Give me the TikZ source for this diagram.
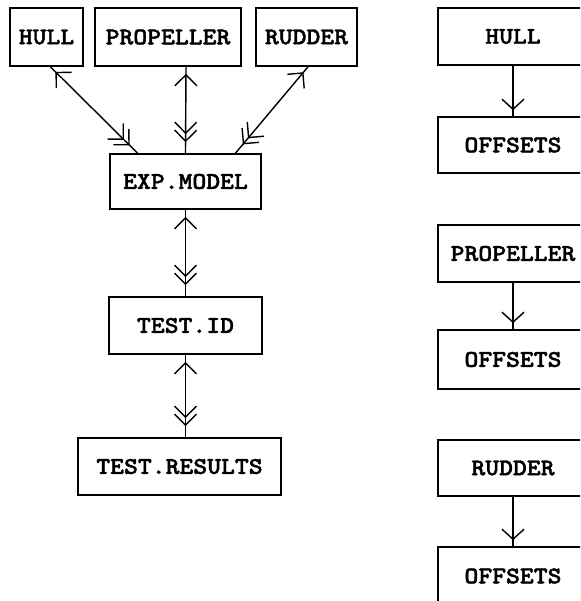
\documentclass[tikz,border=0pt]{standalone}
\usepackage{fontspec}
\newfontfamily\twfont{lmmonolt10-bold.otf}[FakeStretch=1.1,FakeBold=1.6]
\usetikzlibrary{arrows.meta,decorations.markings}
\tikzset{
  boxnode/.style={draw, line width=1.7pt, inner sep=0pt, font=\twfont\fontsize{24}{28}\selectfont},
  conn/.style={line width=1.4pt},
  bi/.style={conn, postaction={decorate}, decoration={markings,
     mark=at position 7pt with {\arrowreversed{Straight Barb[length=11pt,width=22pt]}},
     mark=at position -11pt with {\arrow{Straight Barb[length=11pt,width=22pt]}},
     mark=at position -19pt with {\arrow{Straight Barb[length=11pt,width=22pt]}}}},
  uni/.style={conn, postaction={decorate}, decoration={markings,
     mark=at position -6pt with {\arrow{Straight Barb[length=10pt,width=22pt]}}}}
}
\begin{document}
\begin{tikzpicture}[x=1pt,y=-1pt]
\clip (0,0) rectangle (580,601);
\fill[white] (0,0) rectangle (580,601);
% left column
\node[boxnode, minimum width=73pt, minimum height=58pt] (hullA) at (46.5,37) {HULL};
\node[boxnode, minimum width=146pt, minimum height=58pt] (propA) at (168,37) {PROPELLER};
\node[boxnode, minimum width=101pt, minimum height=58pt] (rudA) at (306.5,37) {RUDDER};
\node[boxnode, minimum width=151pt, minimum height=55pt] (exp) at (185.5,181.5) {EXP.MODEL};
\node[boxnode, minimum width=153pt, minimum height=57pt] (tid) at (185.5,325.5) {TEST.ID};
\node[boxnode, minimum width=203pt, minimum height=57pt] (res) at (179.5,466.5) {TEST.RESULTS};
% right column
\node[boxnode, minimum width=150pt, minimum height=57pt] (hullB) at (513,36.5) {HULL};
\node[boxnode, minimum width=150pt, minimum height=56pt] (offA) at (513,145) {OFFSETS};
\node[boxnode, minimum width=150pt, minimum height=57pt] (propB) at (513,253.5) {PROPELLER};
\node[boxnode, minimum width=150pt, minimum height=59pt] (offB) at (513,359.5) {OFFSETS};
\node[boxnode, minimum width=150pt, minimum height=56pt] (rudB) at (513,468) {RUDDER};
\node[boxnode, minimum width=150pt, minimum height=58pt] (offC) at (513,576) {OFFSETS};
% connectors
\draw[bi] ([xshift=4pt]hullA.south) -- ([xshift=-48pt]exp.north);
\draw[bi] ([xshift=18pt]propA.south) -- (exp.north);
\draw[bi] ([xshift=1.5pt]rudA.south) -- ([xshift=50pt]exp.north);
\draw[bi] (exp.south) -- (tid.north);
\draw[bi] (tid.south) -- (tid.south |- res.north);
\draw[uni] (hullB.south) -- (offA.north);
\draw[uni] (propB.south) -- (offB.north);
\draw[uni] (rudB.south) -- (offC.north);
\end{tikzpicture}
\end{document}
